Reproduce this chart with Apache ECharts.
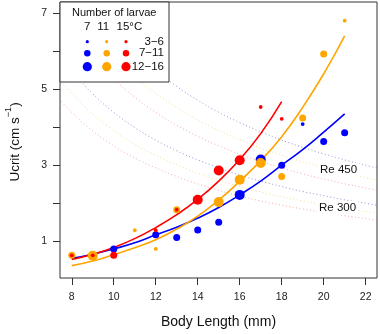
<!DOCTYPE html>
<html><head><meta charset="utf-8">
<script src="https://cdn.jsdelivr.net/npm/echarts@6/dist/echarts.min.js"></script>
<style>html,body{margin:0;padding:0;background:#fff}#c{width:380px;height:334px}</style>
</head><body><div id="c"></div>
<script>
// axis ticks
const xTicks = [8, 10, 12, 14, 16, 18, 20, 22];
const yTicks = [1, 2, 3, 4, 5, 6, 7];
const yLabels = [1, 3, 5, 7];

// observed points: body length (mm), Ucrit (cm/s), larvae-count class (s=3-6, m=7-11, l=12-16)
const blueL = [10, 12, 13, 14, 15, 16, 17, 18, 19, 20, 21];
const blueU = [0.80, 1.17, 1.10, 1.30, 1.50, 2.22, 3.15, 3.00, 4.08, 3.62, 3.85];
const blueN = ['m','m','m','m','m','l','l','m','s','m','m'];

const orangeL = [8, 9, 11, 12, 13, 15, 16, 17, 18, 19, 20, 21];
const orangeU = [0.63, 0.62, 1.29, 0.80, 1.83, 2.03, 2.62, 3.06, 2.70, 4.24, 5.92, 6.80];
const orangeN = ['m','l','s','s','m','l','l','l','m','m','m','s'];

const redL = [8, 9, 10, 12, 13, 14, 15, 16, 17, 18];
const redU = [0.63, 0.63, 0.63, 1.29, 1.83, 2.09, 2.86, 3.13, 4.53, 4.22];
const redN = ['s','s','m','s','s','l','l','l','s','s'];

// fitted curves
const blueFitL = [8, 9, 10, 11, 12, 13, 14, 15, 16, 17, 18, 19, 20, 21];
const blueFitU = [0.55, 0.66, 0.80, 0.96, 1.17, 1.37, 1.61, 1.89, 2.22, 2.58, 3.00, 3.41, 3.87, 4.35];
const orangeFitL = [8, 9, 10, 11, 12, 13, 14, 15, 16, 17, 18, 19, 20, 21];
const orangeFitU = [0.36, 0.48, 0.65, 0.83, 1.04, 1.32, 1.66, 2.08, 2.58, 3.12, 3.75, 4.52, 5.40, 6.40];
const redFitL = [8, 9, 10, 11, 12, 13, 14, 15, 16, 17, 18];
const redFitU = [0.52, 0.66, 0.84, 1.07, 1.36, 1.70, 2.10, 2.58, 3.15, 3.83, 4.67];

// Reynolds-number reference curves
const reL = [7.4, 8, 9, 10, 11, 12, 13, 14, 15, 16, 17, 18, 19, 20, 21, 22, 22.6];
const re450Blue   = [8.91, 8.24, 7.32, 6.59, 5.99, 5.49, 5.07, 4.71, 4.39, 4.12, 3.88, 3.66, 3.47, 3.30, 3.14, 3.00, 2.92];
const re450Orange = [7.93, 7.34, 6.52, 5.87, 5.34, 4.89, 4.52, 4.19, 3.91, 3.67, 3.45, 3.26, 3.09, 2.94, 2.80, 2.67, 2.60];
const re450Red    = [7.12, 6.59, 5.86, 5.27, 4.79, 4.39, 4.05, 3.76, 3.51, 3.29, 3.10, 2.93, 2.77, 2.64, 2.51, 2.40, 2.33];
const re300Blue   = [5.93, 5.49, 4.88, 4.39, 3.99, 3.66, 3.38, 3.14, 2.93, 2.74, 2.58, 2.44, 2.31, 2.20, 2.09, 2.00, 1.94];
const re300Orange = [5.28, 4.89, 4.34, 3.91, 3.55, 3.26, 3.01, 2.79, 2.61, 2.44, 2.30, 2.17, 2.06, 1.96, 1.86, 1.78, 1.73];
const re300Red    = [4.74, 4.39, 3.90, 3.51, 3.19, 2.93, 2.70, 2.51, 2.34, 2.19, 2.06, 1.95, 1.85, 1.76, 1.67, 1.60, 1.55];

const legendTemps = ['7', '11', '15°C'];
const legendClasses = ['3−6', '7−11', '12−16'];

const C = { blue: '#0000FF', orange: '#FFA500', red: '#FF0000' };
const SIZE = { s: 3.8, m: 7, l: 10 };
const FONT = 'Liberation Sans, Arial, sans-serif';

const pairs = (xs, ys) => xs.map((x, i) => [x, ys[i]]);
const pts = (xs, ys, ns) => xs.map((x, i) => ({ value: [x, ys[i]], symbolSize: SIZE[ns[i]] }));

function reLine(ys, color) {
  return { type: 'line', data: pairs(reL, ys), smooth: true, symbol: 'none', z: 1,
    lineStyle: { color: color, width: 1, type: [1, 2.5] }, silent: true };
}
function fitLine(xs, ys, color) {
  return { type: 'line', data: pairs(xs, ys), smooth: true, symbol: 'none', z: 3,
    lineStyle: { color: color, width: 1.6 }, silent: true };
}
function scat(xs, ys, ns, color, z) {
  return { type: 'scatter', data: pts(xs, ys, ns), symbol: 'circle', z: z,
    itemStyle: { color: color, opacity: 1 }, silent: true };
}

const chart = echarts.init(document.getElementById('c'), null, { renderer: 'canvas' });

const legendDotX = [87.3, 106.7, 126];
const legendRowY = [41.7, 53.3, 66.7];
const legendSizes = [3.2, 6.5, 9.2];
const legendColors = [C.blue, C.orange, C.red];

const graphics = [
  { type: 'rect', z: 100, shape: { x: 60, y: 2, width: 109, height: 80 },
    style: { fill: '#fff', stroke: '#333', lineWidth: 1 } },
  { type: 'text', z: 101, x: 72, y: 12.5,
    style: { text: 'Number of larvae', font: '11px ' + FONT, fill: '#111', textVerticalAlign: 'middle' } },
  { type: 'text', z: 101, x: 87.3, y: 27, style: { text: legendTemps[0], font: '11.5px ' + FONT, fill: '#111', textAlign: 'center', textVerticalAlign: 'middle' } },
  { type: 'text', z: 101, x: 103.3, y: 27, style: { text: legendTemps[1], font: '11.5px ' + FONT, fill: '#111', textAlign: 'center', textVerticalAlign: 'middle' } },
  { type: 'text', z: 101, x: 116.5, y: 27, style: { text: legendTemps[2], font: '11.5px ' + FONT, fill: '#111', textVerticalAlign: 'middle' } },
  { type: 'text', z: 150, x: 318, y: 170,
    style: { text: 'Re 450', font: '11.5px ' + FONT, fill: '#111', textVerticalAlign: 'middle', backgroundColor: '#fff', padding: [1, 2] } },
  { type: 'text', z: 150, x: 317, y: 208,
    style: { text: 'Re 300', font: '11.5px ' + FONT, fill: '#111', textVerticalAlign: 'middle', backgroundColor: '#fff', padding: [1, 2] } },
  { type: 'text', z: 101, x: 13, y: 142, rotation: Math.PI / 2,
    style: { text: '{b|Ucrit (cm s}{sup|−1}{b|)}', fill: '#111', textAlign: 'center', textVerticalAlign: 'middle',
      rich: { b: { fontSize: 13.5, fontFamily: FONT, fill: '#111', verticalAlign: 'bottom', lineHeight: 18 },
              sup: { fontSize: 9, fontFamily: FONT, fill: '#111', verticalAlign: 'top', lineHeight: 18 } } } }
];
for (let r = 0; r < 3; r++) {
  for (let c = 0; c < 3; c++) {
    graphics.push({ type: 'circle', z: 101, shape: { cx: legendDotX[c], cy: legendRowY[r], r: legendSizes[r] / 2 },
      style: { fill: legendColors[c] } });
  }
  graphics.push({ type: 'text', z: 101, x: 164, y: legendRowY[r],
    style: { text: legendClasses[r], font: '11.5px ' + FONT, fill: '#111', textAlign: 'right', textVerticalAlign: 'middle' } });
}

chart.setOption({
  animation: false,
  grid: { left: 60, right: 3, top: 2, bottom: 54, show: true, borderColor: '#333', borderWidth: 1, containLabel: false },
  xAxis: {
    type: 'value', min: 7.44, max: 22.54,
    axisLine: { show: false },
    splitLine: { show: false },
    axisTick: { show: true, length: 7, lineStyle: { color: '#333' }, customValues: xTicks },
    axisLabel: { customValues: xTicks, margin: 14, fontSize: 10.5, color: '#222', fontFamily: FONT },
    name: 'Body Length (mm)', nameLocation: 'middle', nameGap: 37,
    nameTextStyle: { fontSize: 14, color: '#111', fontFamily: FONT }
  },
  yAxis: {
    type: 'value', min: 0.035, max: 7.29,
    axisLine: { show: false },
    splitLine: { show: false },
    axisTick: { show: true, length: 7, lineStyle: { color: '#333' }, customValues: yTicks },
    axisLabel: { customValues: yLabels, margin: 13, fontSize: 10.5, color: '#222', fontFamily: FONT }
  },
  series: [
    reLine(re450Blue, 'rgba(60,60,190,0.55)'),
    reLine(re450Orange, 'rgba(240,190,60,0.5)'),
    reLine(re450Red, 'rgba(230,70,70,0.45)'),
    reLine(re300Blue, 'rgba(60,60,190,0.55)'),
    reLine(re300Orange, 'rgba(240,190,60,0.5)'),
    reLine(re300Red, 'rgba(230,70,70,0.45)'),
    fitLine(blueFitL, blueFitU, C.blue),
    fitLine(orangeFitL, orangeFitU, C.orange),
    fitLine(redFitL, redFitU, C.red),
    scat(blueL, blueU, blueN, C.blue, 5),
    scat(orangeL, orangeU, orangeN, C.orange, 6),
    scat(redL, redU, redN, C.red, 7)
  ],
  graphic: graphics
});
</script>
</body></html>
